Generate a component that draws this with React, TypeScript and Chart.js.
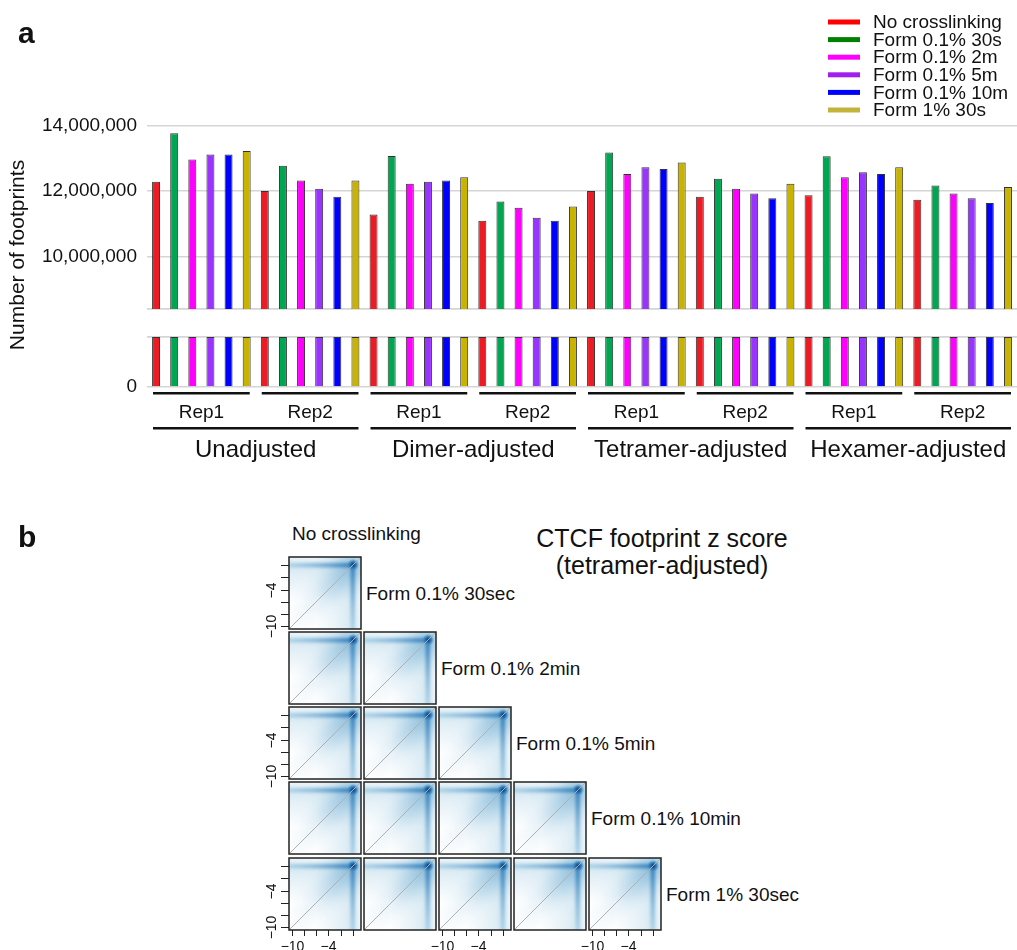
import React, { useEffect, useRef } from 'react';
import { Chart, registerables } from 'chart.js';

Chart.register(...registerables);

const FONT = "'Liberation Sans', Arial, Helvetica, sans-serif";
Chart.defaults.font.family = FONT;
Chart.defaults.color = '#111';

// ---------------- Panel a data ----------------
const GROUPS = ['Unadjusted', 'Dimer-adjusted', 'Tetramer-adjusted', 'Hexamer-adjusted'];
const REPS = ['Rep1', 'Rep2'];
const CATEGORIES = GROUPS.flatMap((g) => REPS.map((r) => `${g} ${r}`));
const CONDITIONS = ['No crosslinking', 'Form 0.1% 30s', 'Form 0.1% 2m', 'Form 0.1% 5m', 'Form 0.1% 10m', 'Form 1% 30s'];
const BAR_COLORS = ['#ed1c24', '#00a651', '#ff00ff', '#9933ff', '#0000ff', '#c8b400'];
const LEGEND_COLORS = ['#ff0000', '#008000', '#ff00ff', '#a020f0', '#0000ff', '#c2b33a'];

// order: Unadj Rep1, Unadj Rep2, Dimer Rep1, Dimer Rep2, Tetramer Rep1, Tetramer Rep2, Hexamer Rep1, Hexamer Rep2
const NO_CROSSLINK = [12280000, 12000000, 11280000, 11090000, 12000000, 11820000, 11870000, 11730000];
const FORM01_30S = [13760000, 12770000, 13070000, 11680000, 13170000, 12370000, 13060000, 12170000];
const FORM01_2M = [12960000, 12320000, 12220000, 11490000, 12520000, 12070000, 12420000, 11920000];
const FORM01_5M = [13110000, 12070000, 12280000, 11180000, 12720000, 11920000, 12570000, 11780000];
const FORM01_10M = [13110000, 11820000, 12320000, 11090000, 12670000, 11780000, 12520000, 11630000];
const FORM1_30S = [13220000, 12320000, 12420000, 11530000, 12870000, 12220000, 12720000, 12120000];
const SERIES = [NO_CROSSLINK, FORM01_30S, FORM01_2M, FORM01_5M, FORM01_10M, FORM1_30S];

const UPPER_TICKS = [10000000, 12000000, 14000000];
const LOWER_TICKS = [0];
const UPPER_RANGE = [8400000, 14500000];
const LOWER_RANGE = [0, 1500000];
const Y_TITLE = 'Number of footprints';

// ---------------- Panel b data ----------------
const COLUMN_TITLE = 'No crosslinking';
const ROW_TITLES = ['Form 0.1% 30sec', 'Form 0.1% 2min', 'Form 0.1% 5min', 'Form 0.1% 10min', 'Form 1% 30sec'];
const PANEL_B_TITLE = ['CTCF footprint z score', '(tetramer-adjusted)'];
const Z_RANGE = [-10.45, 1.35];
const Z_TICKS = [-10, -8, -6, -4, -2, 0];
const Z_TICK_LABELS = ['\u221210', '', '', '\u22124', '', ''];
const DENSITY_PEAK = { x: 0, y: 0 };

const GRID = '#d5d5d5';
const AXIS_W = 147;

const panelAPlugin = {
  id: 'panelALabels',
  afterDraw(chart: any) {
    const { ctx, chartArea: a, scales } = chart;
    const xs = scales.x;
    const centers = CATEGORIES.map((_, i) => xs.getPixelForValue(i));
    const catW = centers[1] - centers[0];
    const half = catW / 2 - 6;
    ctx.save();
    ctx.fillStyle = '#111';
    ctx.strokeStyle = '#111';
    ctx.lineWidth = 2.5;
    ctx.textAlign = 'center';
    ctx.textBaseline = 'alphabetic';
    const hline = (x1: number, x2: number, y: number) => {
      ctx.beginPath();
      ctx.moveTo(x1, y);
      ctx.lineTo(x2, y);
      ctx.stroke();
    };
    ctx.font = `19px ${FONT}`;
    centers.forEach((cx, i) => {
      hline(cx - half, cx + half, a.bottom + 6.3);
      ctx.fillText(REPS[i % REPS.length], cx, a.bottom + 31.3);
    });
    ctx.font = `24px ${FONT}`;
    GROUPS.forEach((g, gi) => {
      const l = centers[gi * REPS.length] - half;
      const r = centers[gi * REPS.length + REPS.length - 1] + half;
      hline(l, r, a.bottom + 41.3);
      ctx.fillText(g, (l + r) / 2, a.bottom + 70.3);
    });
    // y title
    ctx.save();
    ctx.font = `21px ${FONT}`;
    ctx.textBaseline = 'middle';
    ctx.translate(18, (a.top + a.bottom) / 2 + 7);
    ctx.rotate(-Math.PI / 2);
    ctx.fillText(Y_TITLE, 0, 0);
    ctx.restore();
    // legend
    ctx.font = `19px ${FONT}`;
    ctx.textAlign = 'left';
    ctx.textBaseline = 'middle';
    ctx.lineWidth = 5;
    const lx = chart.width - 189;
    CONDITIONS.forEach((c, i) => {
      const y = 22 + i * 17.6;
      ctx.strokeStyle = LEGEND_COLORS[i];
      hline(lx, lx + 32, y);
      ctx.fillText(c, lx + 45, y + 1);
    });
    ctx.restore();
  },
};

function FootprintBars() {
  const ref = useRef<HTMLCanvasElement>(null);
  useEffect(() => {
    const common = {
      borderColor: '#333333',
      borderWidth: 1,
      borderSkipped: 'start',
      barPercentage: 0.44,
      categoryPercentage: 1,
    };
    const upper = SERIES.map((vals, i) => ({
      ...common,
      label: CONDITIONS[i],
      data: vals,
      backgroundColor: BAR_COLORS[i],
      yAxisID: 'yTop',
      stack: `c${i}`,
      base: UPPER_RANGE[0],
    }));
    const lower = SERIES.map((vals, i) => ({
      ...common,
      label: `${CONDITIONS[i]} (below break)`,
      data: vals.map((v) => Math.min(v, LOWER_RANGE[1])),
      backgroundColor: BAR_COLORS[i],
      yAxisID: 'yBot',
      stack: `c${i}`,
    }));
    const fmt = (v: any) => Number(v).toLocaleString('en-US');
    const chart = new Chart(ref.current as HTMLCanvasElement, {
      type: 'bar',
      data: { labels: CATEGORIES, datasets: [...upper, ...lower] as any },
      options: {
        animation: false,
        responsive: false,
        events: [],
        layout: { padding: { top: 109, right: 0, bottom: 83, left: 0 } },
        plugins: { legend: { display: false }, tooltip: { enabled: false } },
        scales: {
          x: { type: 'category', display: false, offset: true, grid: { display: false } },
          yTop: {
            type: 'linear', position: 'left', stack: 'broken', stackWeight: 200, weight: 3, stacked: false,
            min: UPPER_RANGE[0], max: UPPER_RANGE[1],
            afterBuildTicks: (s: any) => { s.ticks = UPPER_TICKS.map((value) => ({ value })); },
            afterFit: (s: any) => { s.width = AXIS_W; },
            border: { display: false },
            grid: { color: GRID, lineWidth: 1.5, drawTicks: false },
            ticks: { font: { size: 19 }, padding: 10, color: '#111', callback: fmt },
          },
          yGap: {
            type: 'linear', position: 'left', stack: 'broken', stackWeight: 28, weight: 2, stacked: false,
            min: 0, max: 1, z: 1,
            afterBuildTicks: (s: any) => { s.ticks = [{ value: 0 }, { value: 1 }]; },
            afterFit: (s: any) => { s.width = AXIS_W; },
            border: { display: false },
            grid: { color: GRID, lineWidth: 1.8, drawTicks: false },
            ticks: { display: false },
          },
          yBot: {
            type: 'linear', position: 'left', stack: 'broken', stackWeight: 50, weight: 1, stacked: false,
            min: LOWER_RANGE[0], max: LOWER_RANGE[1],
            afterBuildTicks: (s: any) => { s.ticks = LOWER_TICKS.map((value) => ({ value })); },
            afterFit: (s: any) => { s.width = AXIS_W; },
            border: { display: false },
            grid: { color: GRID, lineWidth: 1.5, drawTicks: false },
            ticks: { font: { size: 19 }, padding: 10, color: '#111', callback: fmt },
          },
        },
      } as any,
      plugins: [panelAPlugin],
    });
    return () => chart.destroy();
  }, []);
  return <canvas ref={ref} width={1017} height={470} style={{ position: 'absolute', left: 0, top: 0 }} />;
}

// ---------------- Panel b ----------------
const BOX = 72;
const PL = 40, PT = 2, PR = 2, PB = 26;
const COL_X0 = 289.3, STEP_X = 74.8;
const ROW_Y0 = 556.7, STEP_Y = 75.2;

const densityPlugin = {
  id: 'density',
  beforeDatasetsDraw(chart: any) {
    const { ctx, chartArea: a, scales } = chart;
    const x = scales.x, y = scales.y;
    const u = x.getPixelForValue(1) - x.getPixelForValue(0);
    const px = x.getPixelForValue(DENSITY_PEAK.x);
    const py = y.getPixelForValue(DENSITY_PEAK.y);
    const x0 = x.getPixelForValue(Z_RANGE[0]);
    const y0 = y.getPixelForValue(Z_RANGE[0]);
    ctx.save();
    ctx.beginPath();
    ctx.rect(a.left, a.top, a.width, a.height);
    ctx.clip();
    ctx.fillStyle = '#ffffff';
    ctx.fillRect(a.left, a.top, a.width, a.height);

    // halo below the y = 0 band
    const hEnd = py + 6 * u;
    let g = ctx.createLinearGradient(0, a.top, 0, hEnd);
    g.addColorStop(0, 'rgba(158,202,225,0.18)');
    g.addColorStop((py - a.top) / (hEnd - a.top), 'rgba(158,202,225,0.42)');
    g.addColorStop(1, 'rgba(158,202,225,0)');
    ctx.fillStyle = g;
    ctx.fillRect(a.left, a.top, a.width, hEnd - a.top);
    // halo left of the x = 0 band
    const vEnd = px - 6 * u;
    g = ctx.createLinearGradient(a.right, 0, vEnd, 0);
    g.addColorStop(0, 'rgba(158,202,225,0.18)');
    g.addColorStop((a.right - px) / (a.right - vEnd), 'rgba(158,202,225,0.42)');
    g.addColorStop(1, 'rgba(158,202,225,0)');
    ctx.fillStyle = g;
    ctx.fillRect(vEnd, a.top, a.right - vEnd, a.height);

    // diagonal wash
    ctx.save();
    ctx.filter = `blur(${Math.round(1.3 * u)}px)`;
    const dg = ctx.createLinearGradient(x0, y0, px, py);
    dg.addColorStop(0, 'rgba(107,174,214,0)');
    dg.addColorStop(0.45, 'rgba(107,174,214,0.2)');
    dg.addColorStop(1, 'rgba(66,146,198,0.5)');
    ctx.strokeStyle = dg;
    ctx.lineWidth = 3.2 * u;
    ctx.lineCap = 'round';
    ctx.beginPath();
    ctx.moveTo(x0, y0);
    ctx.lineTo(px, py);
    ctx.stroke();
    ctx.restore();

    // sharp bands at z = 0
    ctx.save();
    ctx.filter = 'blur(1.5px)';
    const hb = ctx.createLinearGradient(a.left, 0, px, 0);
    hb.addColorStop(0, 'rgba(107,174,214,0.35)');
    hb.addColorStop(1, 'rgba(33,113,181,0.8)');
    ctx.strokeStyle = hb;
    ctx.lineWidth = 0.75 * u;
    ctx.beginPath();
    ctx.moveTo(a.left - 4, py);
    ctx.lineTo(px + 0.3 * u, py);
    ctx.stroke();
    const vb = ctx.createLinearGradient(0, a.bottom, 0, py);
    vb.addColorStop(0, 'rgba(107,174,214,0.35)');
    vb.addColorStop(1, 'rgba(33,113,181,0.8)');
    ctx.strokeStyle = vb;
    ctx.beginPath();
    ctx.moveTo(px, a.bottom + 4);
    ctx.lineTo(px, py - 0.3 * u);
    ctx.stroke();
    ctx.restore();

    // hot spot
    const rg = ctx.createRadialGradient(px + 0.5, py - 0.5, 0, px + 0.5, py - 0.5, 1.0 * u);
    rg.addColorStop(0, 'rgba(8,48,107,0.95)');
    rg.addColorStop(0.55, 'rgba(33,113,181,0.7)');
    rg.addColorStop(1, 'rgba(66,146,198,0)');
    ctx.fillStyle = rg;
    ctx.fillRect(px - 2 * u, py - 2 * u, 4 * u, 4 * u);
    ctx.restore();
  },
  afterDatasetsDraw(chart: any, _args: any, opts: any) {
    const { ctx, chartArea: a, scales } = chart;
    const x = scales.x, y = scales.y;
    ctx.save();
    ctx.strokeStyle = '#222';
    ctx.lineWidth = 1.5;
    ctx.strokeRect(a.left, a.top, a.width, a.height);
    ctx.lineWidth = 1;
    ctx.fillStyle = '#111';
    ctx.font = `14px ${FONT}`;
    ctx.textAlign = 'center';
    ctx.textBaseline = 'middle';
    if (opts && opts.yAxis) {
      Z_TICKS.forEach((t, i) => {
        const ty = Math.round(y.getPixelForValue(t)) + 0.5;
        ctx.beginPath();
        ctx.moveTo(a.left, ty);
        ctx.lineTo(a.left - 8, ty);
        ctx.stroke();
        if (Z_TICK_LABELS[i]) {
          ctx.save();
          ctx.translate(a.left - 17, ty);
          ctx.rotate(-Math.PI / 2);
          ctx.fillText(Z_TICK_LABELS[i], 0, 0);
          ctx.restore();
        }
      });
    }
    if (opts && opts.xAxis) {
      Z_TICKS.forEach((t, i) => {
        const tx = Math.round(x.getPixelForValue(t)) + 0.5;
        ctx.beginPath();
        ctx.moveTo(tx, a.bottom);
        ctx.lineTo(tx, a.bottom + 6);
        ctx.stroke();
        if (Z_TICK_LABELS[i]) ctx.fillText(Z_TICK_LABELS[i], tx, a.bottom + 17.5);
      });
    }
    ctx.restore();
  },
};

function ZPanel({ row, col }: { row: number; col: number }) {
  const ref = useRef<HTMLCanvasElement>(null);
  useEffect(() => {
    const chart = new Chart(ref.current as HTMLCanvasElement, {
      type: 'scatter',
      data: {
        datasets: [
          {
            data: Z_RANGE.map((v) => ({ x: v, y: v })),
            showLine: true,
            borderColor: '#b0b0b0',
            borderWidth: 1,
            pointRadius: 0,
            pointHoverRadius: 0,
          },
        ],
      },
      options: {
        animation: false,
        responsive: false,
        events: [],
        layout: { padding: { left: PL, top: PT, right: PR, bottom: PB } },
        scales: {
          x: { type: 'linear', min: Z_RANGE[0], max: Z_RANGE[1], display: false },
          y: { type: 'linear', min: Z_RANGE[0], max: Z_RANGE[1], display: false },
        },
        plugins: {
          legend: { display: false },
          tooltip: { enabled: false },
          density: { yAxis: col === 0 && row % 2 === 0, xAxis: row === ROW_TITLES.length - 1 && col % 2 === 0 },
        },
      } as any,
      plugins: [densityPlugin],
    });
    return () => chart.destroy();
  }, [row, col]);
  const left = Math.round(COL_X0 + col * STEP_X) - PL;
  const top = Math.round(ROW_Y0 + row * STEP_Y) - PT;
  return (
    <canvas
      ref={ref}
      width={PL + BOX + PR}
      height={PT + BOX + PB}
      style={{ position: 'absolute', left, top }}
    />
  );
}

function Text({ left, cy, size, children, bold }: any) {
  return (
    <div
      style={{
        position: 'absolute',
        left,
        top: cy,
        transform: 'translateY(-50%)',
        fontSize: size,
        lineHeight: 1,
        whiteSpace: 'nowrap',
        fontWeight: bold ? 'bold' : 'normal',
      }}
    >
      {children}
    </div>
  );
}

export default function App() {
  const panels: React.ReactNode[] = [];
  ROW_TITLES.forEach((_, r) => {
    for (let c = 0; c <= r; c++) panels.push(<ZPanel key={`${r}-${c}`} row={r} col={c} />);
  });
  return (
    <div
      style={{
        position: 'absolute',
        left: 0,
        top: 0,
        width: 1017,
        height: 950,
        overflow: 'hidden',
        background: '#fff',
        fontFamily: FONT,
        color: '#111',
      }}
    >
      <FootprintBars />
      <div style={{ position: 'absolute', left: 18, top: 18, fontSize: 30, fontWeight: 'bold', lineHeight: 1 }}>a</div>
      <div style={{ position: 'absolute', left: 18, top: 522, fontSize: 30, fontWeight: 'bold', lineHeight: 1 }}>b</div>
      {panels}
      <Text left={292} cy={533} size={19}>{COLUMN_TITLE}</Text>
      {ROW_TITLES.map((t, r) => (
        <Text
          key={t}
          left={Math.round(COL_X0 + r * STEP_X) + BOX + 5}
          cy={Math.round(ROW_Y0 + r * STEP_Y) + BOX / 2}
          size={19}
        >
          {t}
        </Text>
      ))}
      <div
        style={{
          position: 'absolute',
          left: 512,
          width: 300,
          top: 525,
          textAlign: 'center',
          fontSize: 25,
          lineHeight: '27px',
        }}
      >
        {PANEL_B_TITLE.map((t) => (
          <div key={t}>{t}</div>
        ))}
      </div>
    </div>
  );
}
